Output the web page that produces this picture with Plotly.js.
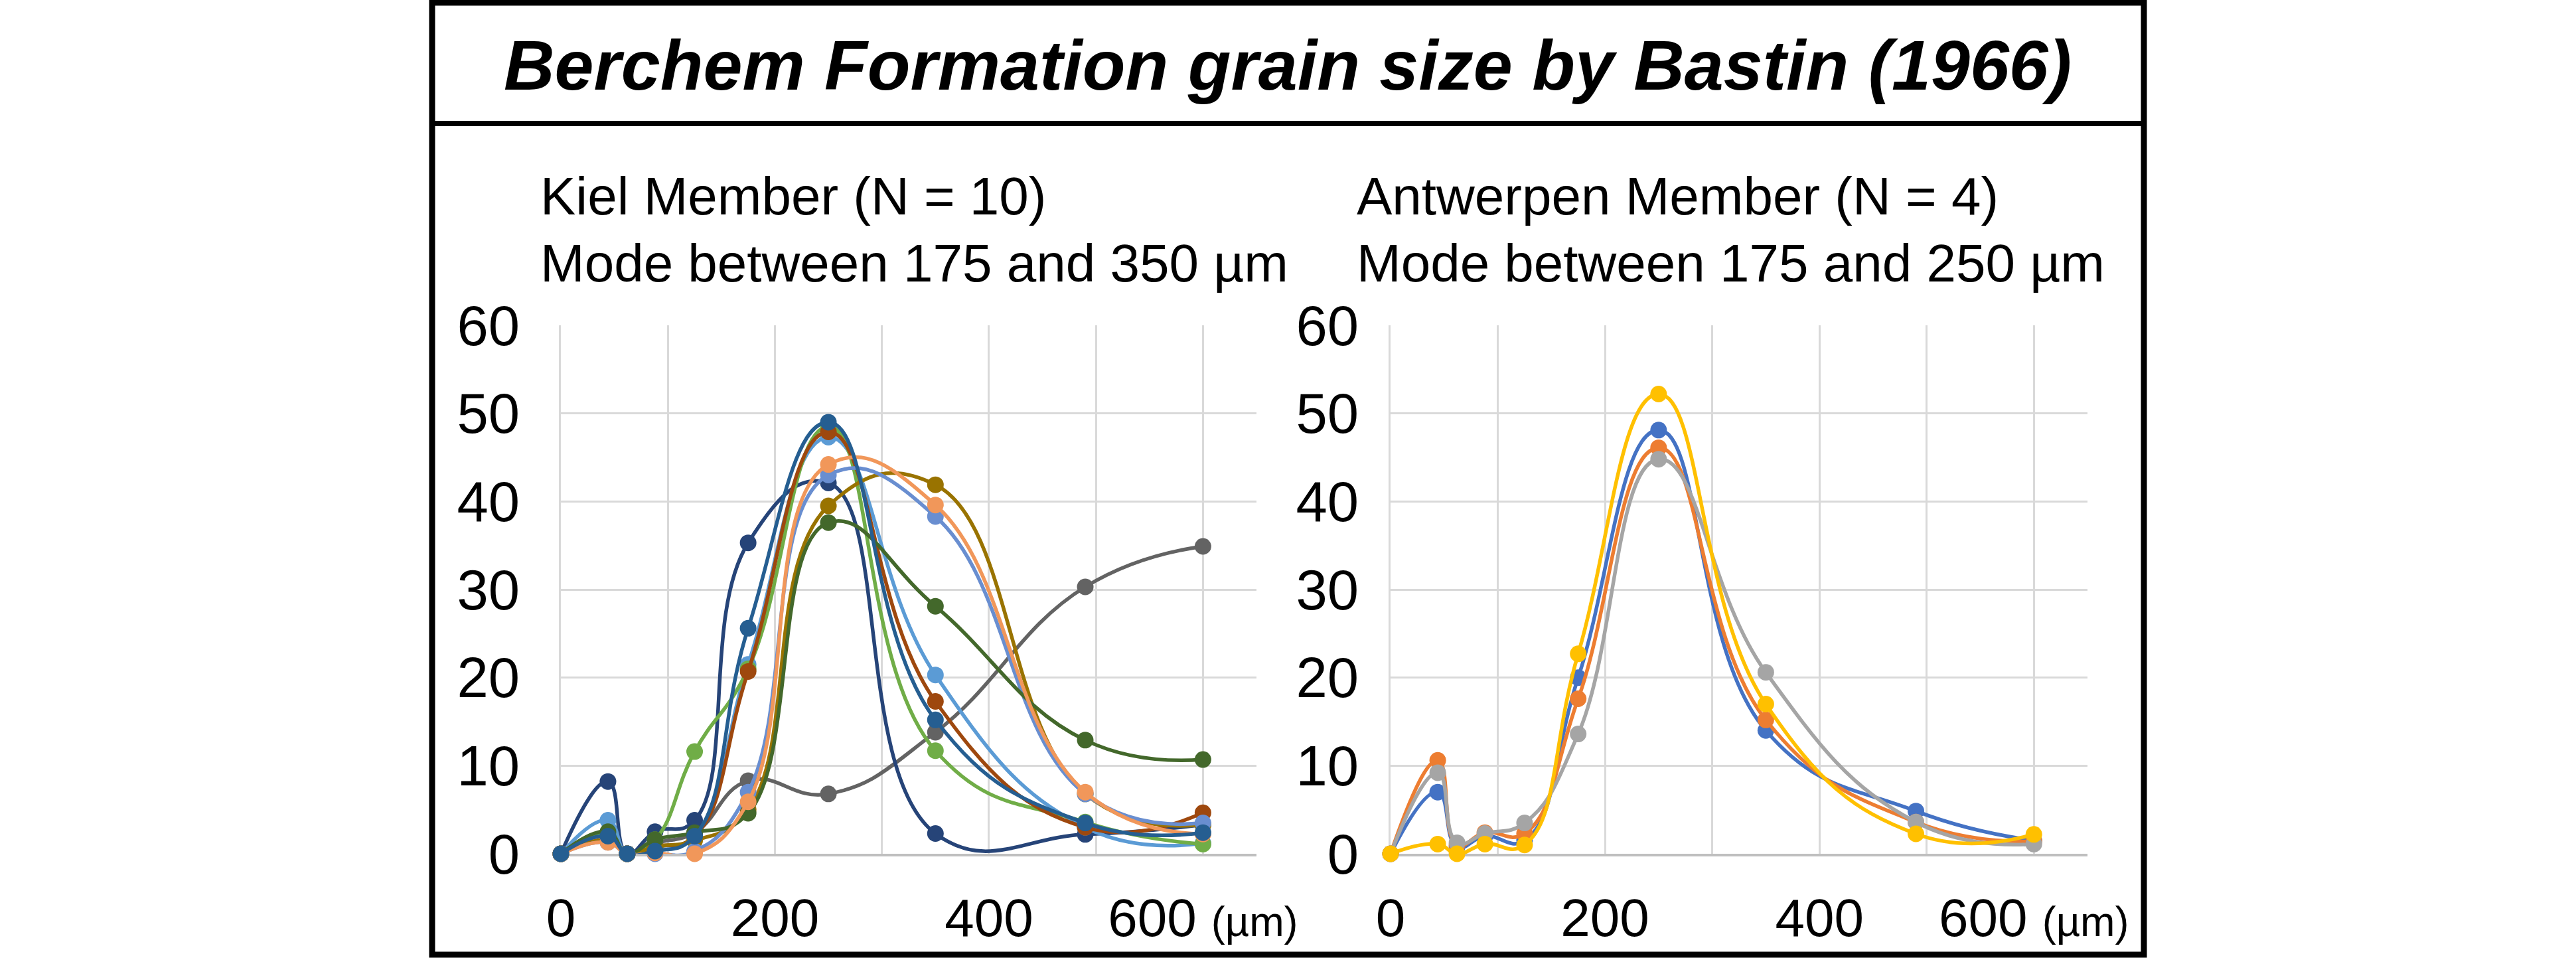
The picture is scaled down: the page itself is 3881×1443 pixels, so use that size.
<!DOCTYPE html>
<html>
<head>
<meta charset="utf-8">
<script src="https://cdn.plot.ly/plotly-3.0.1.min.js"></script>
<style>
  html, body { margin: 0; padding: 0; background: #fff; }
  #chart { width: 3881px; height: 1443px; }
</style>
</head>
<body>
<div id="chart"></div>
<script>
// grain size classes (µm)
var sizes = [0, 44, 62, 88, 125, 175, 250, 350, 490, 600];

// Kiel Member, 10 samples (weight %)
var kielNames = ['K1', 'K2', 'K3', 'K4', 'K5', 'K6', 'K7', 'K8', 'K9', 'K10'];
var kielColors = ['#636363', '#264478', '#5B9BD5', '#70AD47', '#9E480E',
                  '#997300', '#698ED0', '#43682B', '#F1975A', '#255E91'];
var kiel1 = [0, 2.0, 0, 1.2, 2.4, 8.3, 6.8, 13.8, 30.3, 34.9];
var kiel2 = [0, 8.2, 0, 2.5, 3.8, 35.3, 42.1, 2.3, 2.2, 3.3];
var kiel3 = [0, 3.8, 0, 0.8, 2.0, 21.5, 47.3, 20.3, 3.0, 1.2];
var kiel4 = [0, 2.2, 0, 1.6, 11.6, 21.0, 48.5, 11.7, 3.6, 1.1];
var kiel5 = [0, 1.5, 0, 0.8, 2.0, 20.7, 47.9, 17.3, 3.0, 4.65];
var kiel6 = [0, 1.5, 0, 0.8, 1.5, 5.0, 39.5, 41.9, 6.8, 3.3];
var kiel7 = [0, 1.3, 0, 0, 0.3, 7.0, 43.0, 38.3, 6.8, 3.5];
var kiel8 = [0, 2.5, 0, 1.6, 2.4, 4.6, 37.6, 28.1, 12.9, 10.7];
var kiel9 = [0, 1.3, 0, 0.1, 0, 5.9, 44.2, 39.6, 7.0, 2.25];
var kiel10 = [0, 2.0, 0, 0.3, 2.0, 25.6, 49.0, 15.2, 3.5, 2.4];
var kielValues = [kiel1, kiel2, kiel3, kiel4, kiel5, kiel6, kiel7, kiel8, kiel9, kiel10];

// Antwerpen Member, 4 samples (weight %)
var antNames = ['A1', 'A2', 'A3', 'A4'];
var antColors = ['#4472C4', '#ED7D31', '#A5A5A5', '#FFC000'];
var ant1 = [0, 7.0, 0.8, 2.0, 1.5, 20.0, 48.1, 14.0, 4.85, 1.5];
var ant2 = [0, 10.6, 1.0, 2.4, 2.3, 17.6, 46.1, 15.2, 3.6, 1.4];
var ant3 = [0, 9.2, 1.25, 2.3, 3.5, 13.6, 44.8, 20.6, 3.6, 1.1];
var ant4 = [0, 1.1, 0, 1.1, 1.0, 22.7, 52.2, 17.0, 2.26, 2.2];
var antValues = [ant1, ant2, ant3, ant4];

var xTickVals = [0, 200, 400, 600];
var xTickText = ['0', '200', '400', '600 <span style="font-size:63px">(µm)</span>'];
var yTickVals = [0, 10, 20, 30, 40, 50, 60];

var W = 3881, H = 1443;
function px(x) { return x / W; }
function py(y) { return 1 - y / H; }

var FONT = 'Liberation Sans, Arial, sans-serif';

function makeTraces(values, colors, names, xa, ya) {
  return values.map(function (vals, i) {
    return {
      type: 'scatter',
      mode: 'lines+markers',
      x: sizes,
      y: vals,
      name: names[i],
      xaxis: xa,
      yaxis: ya,
      cliponaxis: false,
      line: { color: colors[i], width: 5.5, shape: 'spline', smoothing: 1.3 },
      marker: { color: colors[i], size: 25 }
    };
  });
}

var traces = makeTraces(kielValues, kielColors, kielNames, 'x', 'y')
  .concat(makeTraces(antValues, antColors, antNames, 'x2', 'y2'));

function xAxis(domain, anchor) {
  return {
    domain: domain,
    anchor: anchor,
    range: [0, 650],
    tickmode: 'array',
    tickvals: xTickVals,
    ticktext: xTickText,
    showgrid: true,
    gridcolor: '#d9d9d9',
    gridwidth: 3,
    minor: { tickmode: 'array', tickvals: [100, 300, 500], showgrid: true, gridcolor: '#d9d9d9', gridwidth: 3 },
    zeroline: false,
    showline: true,
    linecolor: '#bfbfbf',
    linewidth: 4,
    ticks: '',
    ticklabelstandoff: 24,
    tickfont: { family: FONT, size: 80, color: '#000' },
    layer: 'below traces',
    fixedrange: true
  };
}

function yAxis(domain, anchor, standoff) {
  return {
    domain: domain,
    anchor: anchor,
    range: [0, 60],
    tickmode: 'array',
    tickvals: yTickVals,
    showgrid: true,
    gridcolor: '#d9d9d9',
    gridwidth: 3,
    zeroline: false,
    showline: true,
    linecolor: '#d9d9d9',
    linewidth: 3,
    ticks: '',
    ticklabelstandoff: standoff,
    tickfont: { family: FONT, size: 85, color: '#000' },
    layer: 'below traces',
    fixedrange: true
  };
}

var yDomain = [py(1286), py(490)];

var layout = {
  width: W,
  height: H,
  margin: { l: 0, r: 0, t: 0, b: 0, pad: 0 },
  paper_bgcolor: '#ffffff',
  plot_bgcolor: '#ffffff',
  showlegend: false,
  xaxis: xAxis([px(845), px(1893)], 'y'),
  yaxis: yAxis(yDomain, 'x', 42),
  xaxis2: xAxis([px(2095), px(3145)], 'y2'),
  yaxis2: yAxis(yDomain, 'x2', 28),
  shapes: [
    { type: 'rect', xref: 'paper', yref: 'paper',
      x0: px(651), x1: px(3230), y0: py(1438), y1: py(4),
      line: { color: '#000', width: 9 } },
    { type: 'line', xref: 'paper', yref: 'paper',
      x0: px(651), x1: px(3230), y0: py(186), y1: py(186),
      line: { color: '#000', width: 8 } }
  ],
  annotations: [
    { text: '<b><i>Berchem Formation grain size by Bastin (1966)</i></b>',
      xref: 'paper', yref: 'paper', x: px(1940), y: py(98),
      xanchor: 'center', yanchor: 'middle', showarrow: false,
      font: { family: FONT, size: 106, color: '#000' } },
    { text: 'Kiel Member (N = 10)',
      xref: 'paper', yref: 'paper', x: px(812), y: py(296),
      xanchor: 'left', yanchor: 'middle', showarrow: false,
      font: { family: FONT, size: 80, color: '#000' } },
    { text: 'Mode between 175 and 350 µm',
      xref: 'paper', yref: 'paper', x: px(812), y: py(396),
      xanchor: 'left', yanchor: 'middle', showarrow: false,
      font: { family: FONT, size: 80, color: '#000' } },
    { text: 'Antwerpen Member (N = 4)',
      xref: 'paper', yref: 'paper', x: px(2042), y: py(296),
      xanchor: 'left', yanchor: 'middle', showarrow: false,
      font: { family: FONT, size: 80, color: '#000' } },
    { text: 'Mode between 175 and 250 µm',
      xref: 'paper', yref: 'paper', x: px(2042), y: py(396),
      xanchor: 'left', yanchor: 'middle', showarrow: false,
      font: { family: FONT, size: 80, color: '#000' } }
  ]
};

Plotly.newPlot('chart', traces, layout, { staticPlot: true, displayModeBar: false });
</script>
</body>
</html>
